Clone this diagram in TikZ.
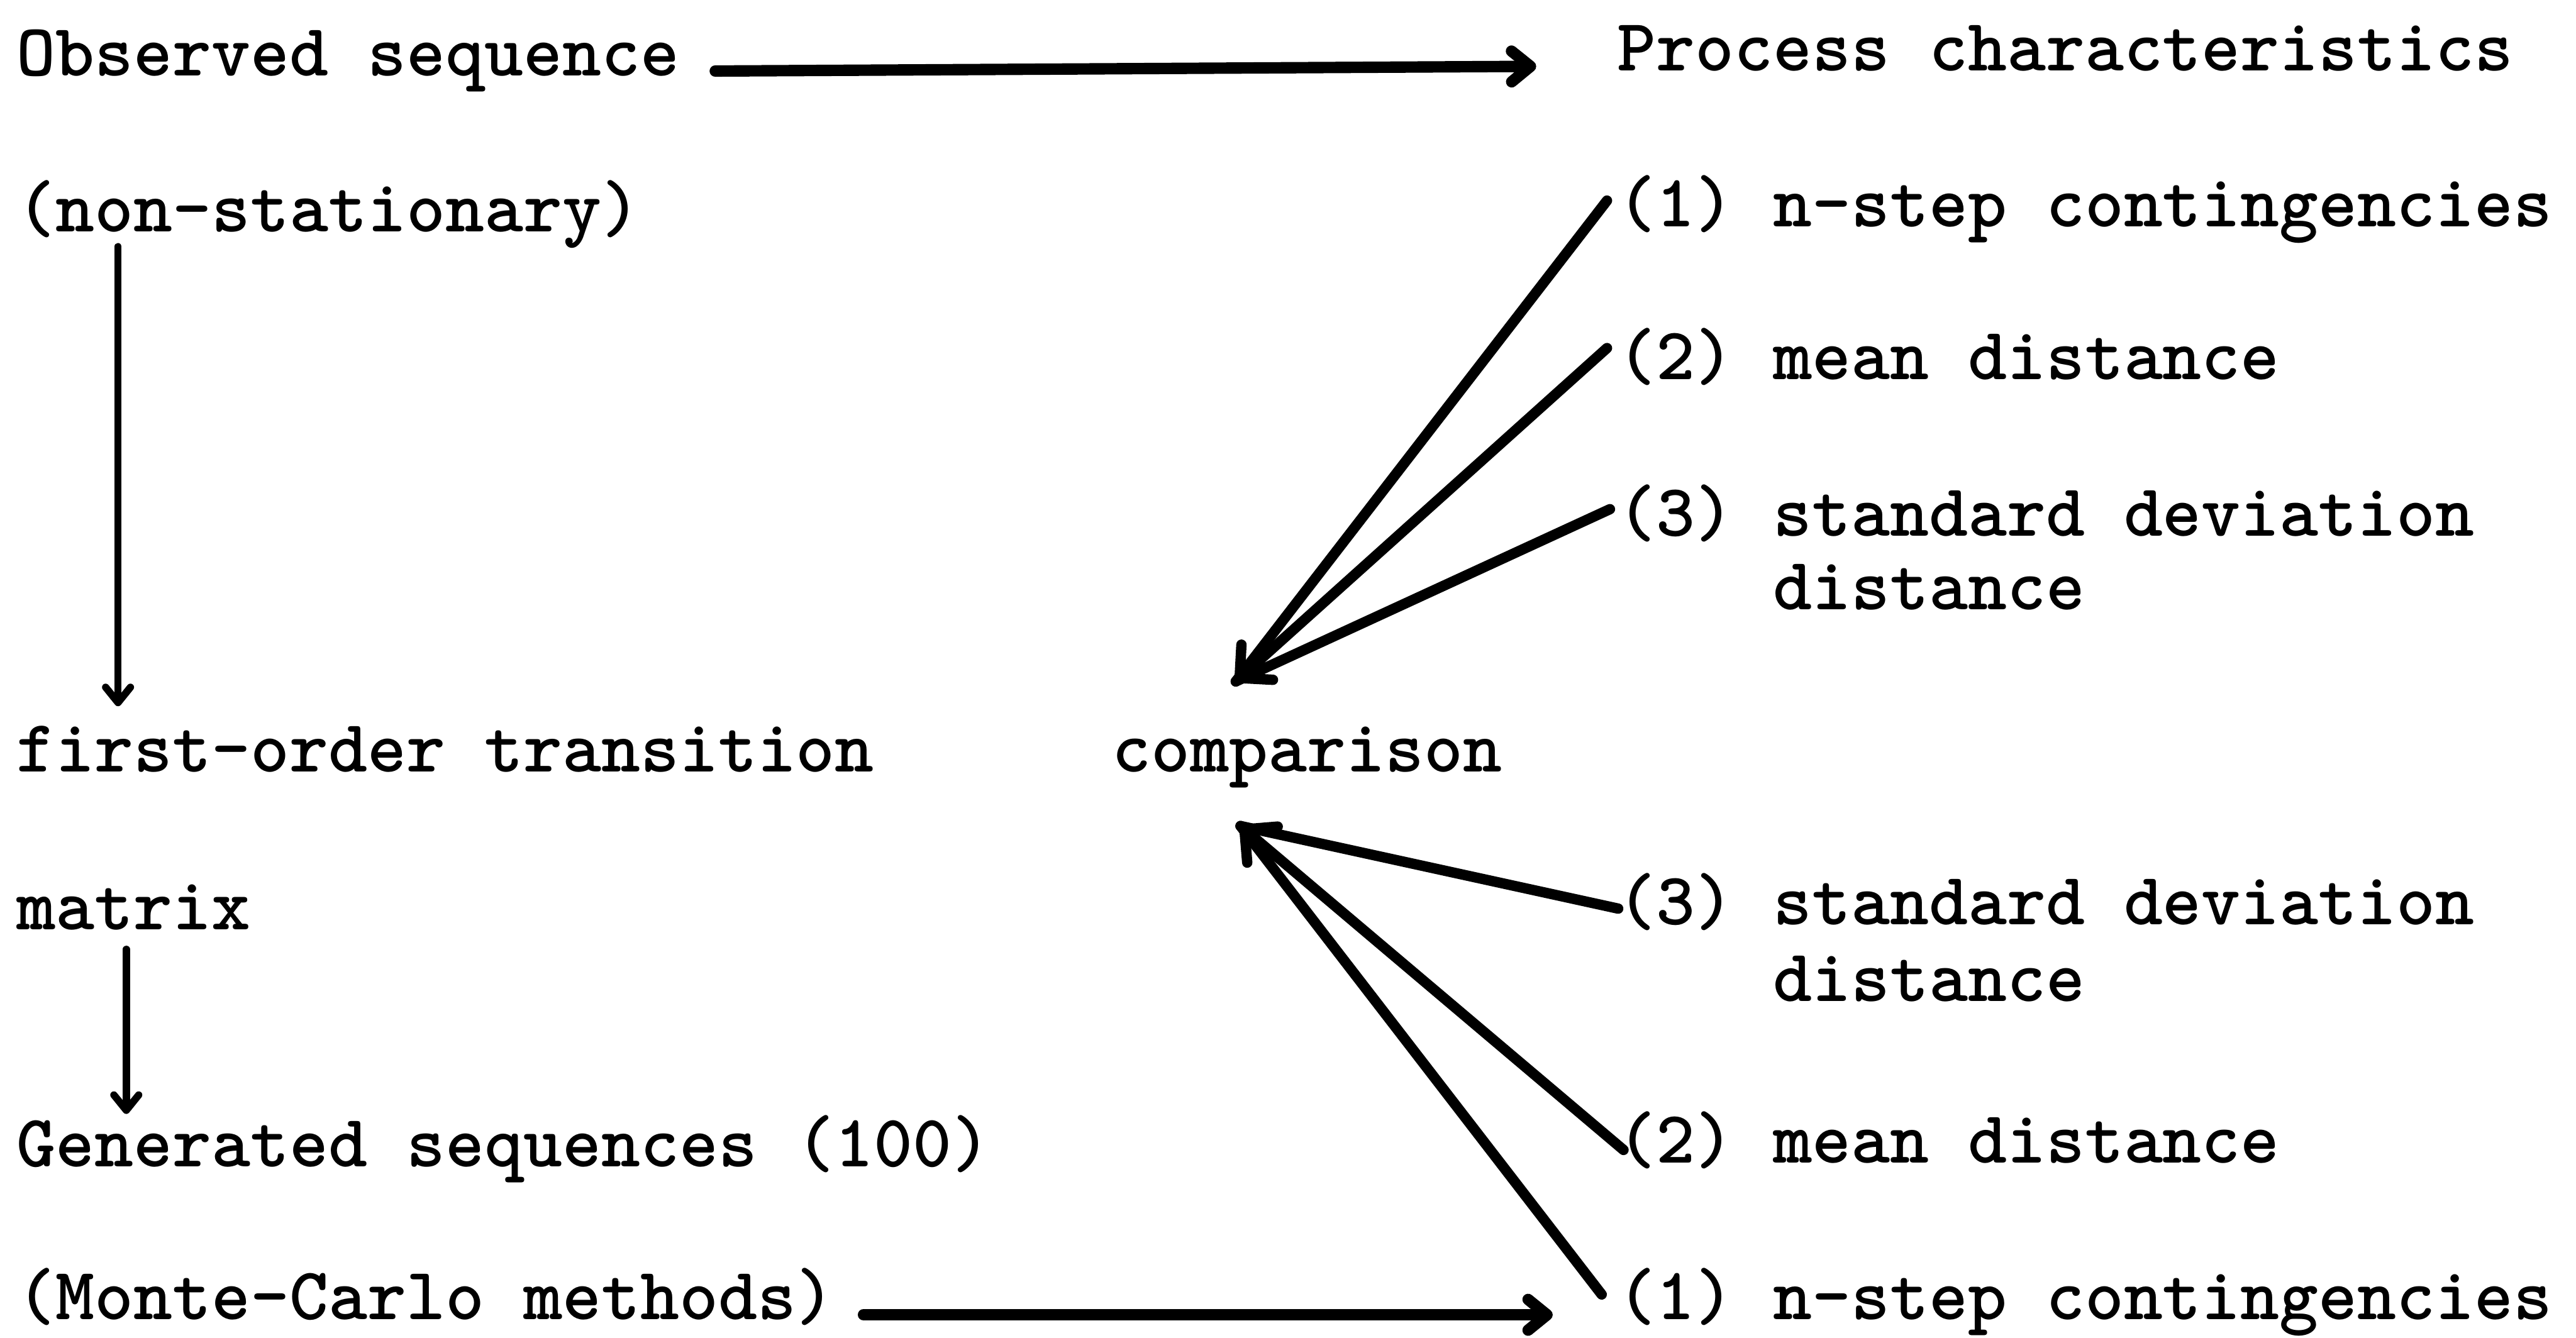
\documentclass[tikz,border=0pt]{standalone}
\usepackage{tikz}
\usetikzlibrary{arrows.meta}
\usetikzlibrary{positioning}

\begin{document}
\begin{tikzpicture}[
        txt/.style={anchor=base west, inner sep=0pt, outer sep=0pt,
            font=\fontsize{35.8}{37}\selectfont\ttfamily\bfseries},
        flow/.style={line width=5.5pt, line cap=round,
            -{Straight Barb[length=3.2mm,width=5.2mm,round]}},
        drop/.style={line width=3.5pt, line cap=round,
            -{Straight Barb[length=2.6mm,width=4.2mm,round]}},
        fanline/.style={line width=5pt, line cap=round, line join=round}
    ]
        \useasboundingbox (0,0) rectangle (43.65,-22.67);
        \node[txt] (obs) at (0.28,-1.28) {Observed sequence};
        \node[txt] (proc) at (27.40,-1.20) {Process characteristics};
        \node[txt] (nonstat) at (0.28,-3.93) {(non-stationary)};
        \node[txt] (trans) at (0.28,-13.08) {first-order transition};
        \node[txt] (matrix) at (0.28,-15.76) {matrix};
        \node[txt] (gen) at (0.28,-19.77) {Generated sequences (100)};
        \node[txt] (monte) at (0.28,-22.36) {(Monte-Carlo methods)};
        \node[txt] (cmp) at (18.85,-13.08) {comparison};
        \node[txt] (ua) at (27.40,-3.84) {(1) n-step contingencies};
        \node[txt] (ub) at (27.40,-6.43) {(2) mean distance};
        \node[txt] (uc) at (27.40,-9.08) {(3) standard deviation};
        \node[txt] (ucd) at ([yshift=-1.25cm]uc.base west) {\phantom{(3)} distance};
        \node[txt] (lc) at (27.40,-15.67) {(3) standard deviation};
        \node[txt] (lcd) at ([yshift=-1.30cm]lc.base west) {\phantom{(3)} distance};
        \node[txt] (lb) at (27.40,-19.71) {(2) mean distance};
        \node[txt] (la) at (27.40,-22.36) {(1) n-step contingencies};
        \coordinate (cmpin) at ([xshift=2.09cm,yshift=1.53cm]cmp.base west);
        \coordinate (cmpout) at ([xshift=2.17cm,yshift=-0.92cm]cmp.base west);
        \draw[flow] ([xshift=0.61cm]obs.mid east) -- ([xshift=-1.37cm]proc.mid west);
        \draw[flow] ([xshift=0.48cm]monte.mid east) -- ([xshift=-1.09cm]la.mid west);
        \draw[drop] ([xshift=1.72cm,yshift=-0.25cm]nonstat.base west) -- ([xshift=1.72cm,yshift=1.11cm]trans.base west);
        \draw[drop] ([xshift=1.86cm,yshift=-0.33cm]matrix.base west) -- ([xshift=1.86cm,yshift=0.89cm]gen.base west);
        \draw[fanline] ([xshift=-0.17cm,yshift=0.44cm]ua.base west) -- (cmpin);
        \draw[fanline] ([xshift=-0.12cm,yshift=0.45cm]uc.base west) -- (cmpin);
        \draw[fanline,-{Straight Barb[length=4mm,width=8mm,round]}] ([xshift=-0.17cm,yshift=0.53cm]ub.base west) -- (cmpin);
        \draw[fanline] ([xshift=0.02cm,yshift=0.27cm]lc.base west) -- (cmpout);
        \draw[fanline] ([xshift=-0.26cm,yshift=0.42cm]la.base west) -- (cmpout);
        \draw[fanline,-{Straight Barb[length=4mm,width=8mm,round]}] ([xshift=0.11cm,yshift=0.22cm]lb.base west) -- (cmpout);
    \end{tikzpicture}
\end{document}
